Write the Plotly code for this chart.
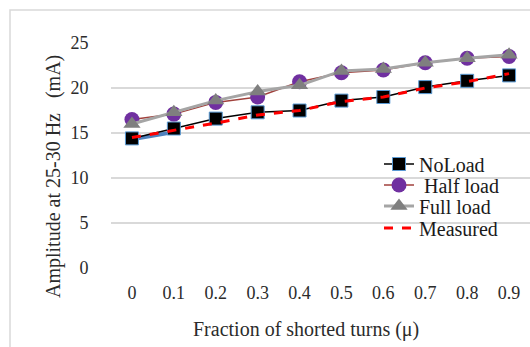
import plotly.graph_objects as go

categories = ["0", "0.1", "0.2", "0.3", "0.4", "0.5", "0.6", "0.7", "0.8", "0.9"]
no_load = [14.4, 15.5, 16.6, 17.3, 17.5, 18.6, 19.0, 20.1, 20.8, 21.4]
half_load = [16.5, 17.1, 18.4, 19.0, 20.7, 21.7, 22.0, 22.8, 23.3, 23.5]
full_load = [16.0, 17.3, 18.6, 19.6, 20.3, 21.9, 22.1, 22.8, 23.3, 23.7]
measured = [14.5, 15.3, 16.1, 17.0, 17.5, 18.5, 19.0, 20.0, 20.7, 21.6]
extra_cats = ["0", "0.1"]
extra_vals = [14.3, 15.1]
y_ticks = [0, 5, 10, 15, 20, 25]

W, H = 530, 347
L, R, T, B = 111, 0, 43, 79
pw, ph = W - L - R, H - T - B
font = "Liberation Serif"
tcol = "#2b2b2b"

fig = go.Figure()
fig.add_trace(go.Scatter(x=extra_cats, y=extra_vals, mode="lines",
                         line=dict(color="#4f81bd", width=4), showlegend=False, hoverinfo="skip"))
fig.add_trace(go.Scatter(x=categories, y=no_load, name="NoLoad", mode="lines+markers",
                         line=dict(color="black", width=1.5), legend="legend",
                         marker=dict(symbol="square", size=13, color="black",
                                     line=dict(color="#5b9bd5", width=1))))
fig.add_trace(go.Scatter(x=categories, y=half_load, name=" Half load", mode="lines+markers",
                         line=dict(color="#a0413c", width=1.5), legend="legend2",
                         marker=dict(symbol="circle", size=15, color="#7030a0")))
fig.add_trace(go.Scatter(x=categories, y=full_load, name="Full load", mode="lines+markers",
                         line=dict(color="#a5a5a5", width=3), legend="legend3",
                         marker=dict(symbol="triangle-up", size=15, color="#7f7f7f")))
fig.add_trace(go.Scatter(x=categories, y=measured, name="Measured", mode="lines",
                         line=dict(color="#ff0000", width=3, dash="dash"), legend="legend4"))


def leg(cy):
    return dict(x=(379 - L) / pw, y=(268 - cy) / ph, xanchor="left", yanchor="middle",
                bgcolor="rgba(0,0,0,0)", font=dict(family=font, size=20, color="#1a1a1a"),
                itemwidth=30)


fig.update_layout(
    width=W, height=H,
    margin=dict(l=L, r=R, t=T, b=B, pad=0),
    paper_bgcolor="white", plot_bgcolor="white",
    font=dict(family=font, size=18, color=tcol),
    showlegend=True,
    legend=leg(164), legend2=leg(185), legend3=leg(206), legend4=leg(228),
    xaxis=dict(type="category", range=[-0.5, 9.5], showgrid=False, zeroline=False,
               showline=False, ticks="outside", ticklen=8, tickcolor="rgba(0,0,0,0)",
               tickfont=dict(family=font, size=18, color=tcol)),
    yaxis=dict(range=[0, 25], tickvals=y_ticks, showgrid=True, gridcolor="#d9d9d9",
               gridwidth=1.5, zeroline=False, showline=False, ticks="outside", ticklen=18,
               tickcolor="rgba(0,0,0,0)", tickfont=dict(family=font, size=18, color=tcol)),
    shapes=[dict(type="rect", xref="paper", yref="paper",
                 x0=(10 - L) / pw, x1=1.2, y0=-1, y1=(268 - 10) / ph,
                 line=dict(color="#d9d9d9", width=1.5), layer="below")],
    annotations=[
        dict(text="Fraction of shorted turns (μ)", xref="paper", yref="paper",
             x=(306 - L) / pw, y=(268 - 329) / ph, xanchor="center", yanchor="middle",
             showarrow=False, font=dict(family=font, size=20, color=tcol)),
        dict(text="Amplitude at 25-30 Hz   (mA)", xref="paper", yref="paper",
             x=(53 - L) / pw, y=(268 - 177) / ph, xanchor="center", yanchor="middle",
             textangle=-90, showarrow=False, font=dict(family=font, size=20, color=tcol)),
    ],
)

fig.write_html("out.html", config={"displayModeBar": False},
               post_script="document.body.style.margin='0';document.body.style.overflow='hidden';")
